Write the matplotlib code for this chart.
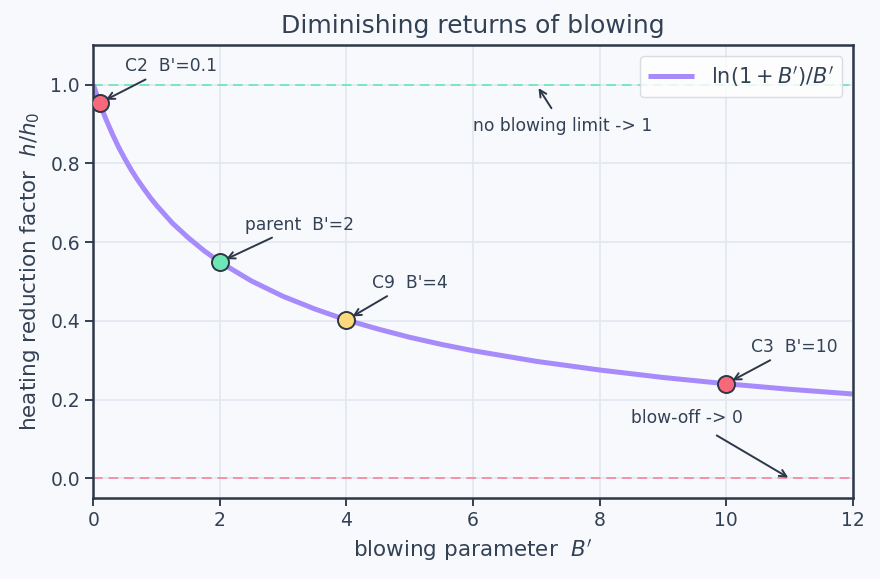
import matplotlib.pyplot as plt

# curve values: h/h0 vs blowing parameter B'
b_vals = [0.0, 0.05, 0.1, 0.15, 0.2, 0.3, 0.4, 0.5, 0.6, 0.7, 0.8, 0.9, 1.0, 1.25, 1.5,
          1.75, 2.0, 2.5, 3.0, 3.5, 4.0, 4.5, 5.0, 5.5, 6.0, 7.0, 8.0, 9.0, 10.0, 11.0, 12.0]
h_vals = [1.0, 0.976, 0.953, 0.932, 0.912, 0.875, 0.841, 0.811, 0.783, 0.758, 0.735,
          0.713, 0.693, 0.648, 0.611, 0.578, 0.549, 0.501, 0.462, 0.430, 0.402, 0.379,
          0.358, 0.340, 0.324, 0.297, 0.275, 0.256, 0.240, 0.226, 0.214]

# design cases
case_labels = ["C2  B'=0.1", "parent  B'=2", "C9  B'=4", "C3  B'=10"]
case_b = [0.1, 2.0, 4.0, 10.0]
case_h = [0.953, 0.549, 0.402, 0.240]
case_colors = ['#f7697a', '#6ee7b7', '#fcd97a', '#f7697a']
label_pos = [(0.5, 1.046), (2.4, 0.644), (4.4, 0.496), (10.4, 0.333)]

text_col = '#334155'
bg = '#f8f9fc'

fig, ax = plt.subplots(figsize=(8.8, 5.79), dpi=100)
fig.patch.set_facecolor(bg)
ax.set_facecolor(bg)

ax.axhline(1.0, color='#6ee7b7', lw=1.4, ls=(0, (5, 3)), alpha=0.9, zorder=1)
ax.axhline(0.0, color='#f48aa0', lw=1.4, ls=(0, (5, 3)), alpha=0.9, zorder=1)

ax.plot(b_vals, h_vals, color='#a78bfa', lw=3.6, label=r"$\ln(1+B')/B'$", zorder=2,
        solid_capstyle='butt')

for lab, bx, hy, c, pos in zip(case_labels, case_b, case_h, case_colors, label_pos):
    ax.scatter(bx, hy, s=150, color=c, edgecolor='#2d3748', linewidth=1.4, zorder=4)
    ax.annotate(lab, xy=(bx, hy), xytext=pos, ha='left', va='center',
                fontsize=12.3, color=text_col,
                arrowprops=dict(arrowstyle='->', color='#2d3748', lw=1.4,
                                shrinkA=2, shrinkB=5))

ax.annotate('no blowing limit -> 1', xy=(7.0, 1.0), xytext=(6.0, 0.895),
            ha='left', va='center', fontsize=12.3, color=text_col,
            arrowprops=dict(arrowstyle='->', color='#2d3748', lw=1.4, shrinkA=5, shrinkB=3))
ax.annotate('blow-off -> 0', xy=(11.0, 0.0), xytext=(8.5, 0.153),
            ha='left', va='center', fontsize=12.3, color=text_col,
            arrowprops=dict(arrowstyle='->', color='#2d3748', lw=1.4, shrinkA=8, shrinkB=1))

ax.set_xlim(0, 12)
ax.set_ylim(-0.05, 1.1)
ax.set_xticks([0, 2, 4, 6, 8, 10, 12])
ax.set_yticks([0.0, 0.2, 0.4, 0.6, 0.8, 1.0])
ax.grid(True, color='#e2e8f0', lw=1.2)
ax.set_axisbelow(True)

for s in ax.spines.values():
    s.set_color('#2d3748')
    s.set_linewidth(1.8)
ax.tick_params(colors=text_col, labelsize=13.5, length=6, width=1.4)

ax.set_xlabel("blowing parameter  $B'$", fontsize=15.5, color=text_col, labelpad=5)
ax.set_ylabel("heating reduction factor  $h/h_0$", fontsize=15.5, color=text_col, labelpad=6)
ax.set_title('Diminishing returns of blowing', fontsize=18, color=text_col, pad=9)

leg = ax.legend(loc='upper right', fontsize=15, frameon=True, handlelength=2.2)
leg.get_frame().set_facecolor('white')
leg.get_frame().set_edgecolor('#d0d5dd')
for t in leg.get_texts():
    t.set_color(text_col)

fig.subplots_adjust(left=0.106, right=0.969, top=0.922, bottom=0.14)
fig.savefig('out.png', dpi=100, facecolor=bg)
